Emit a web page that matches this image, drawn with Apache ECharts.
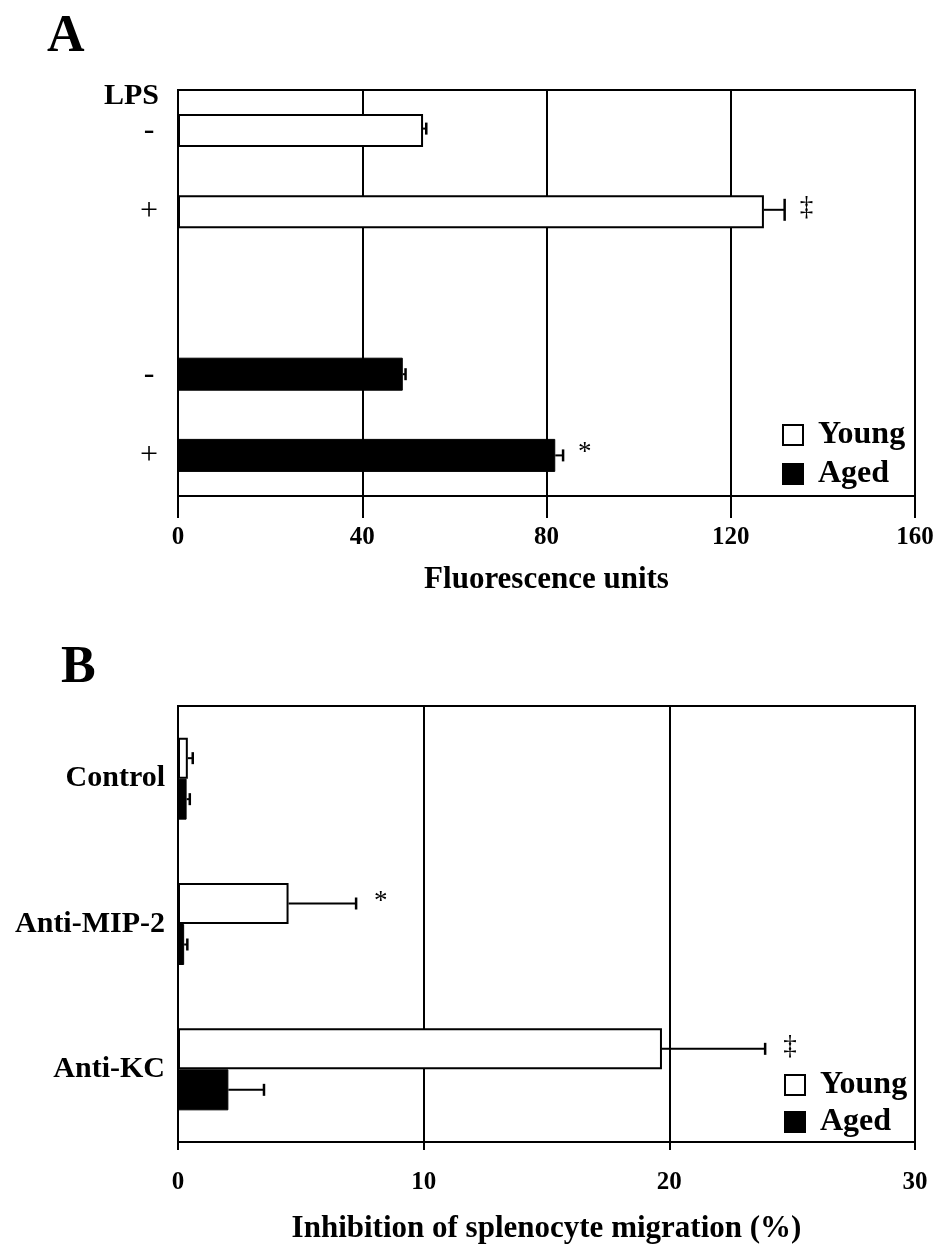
<!DOCTYPE html>
<html><head><meta charset="utf-8">
<script src="https://cdn.jsdelivr.net/npm/echarts@6/dist/echarts.min.js"></script>
<style>html,body{margin:0;padding:0;background:#fff}#c{width:940px;height:1254px}</style>
</head><body><div id="c"></div>
<script>
// ---- Panel A data ----
const catsA = ['Young LPS-', 'Young LPS+', 'gap', 'Aged LPS-', 'Aged LPS+'];
const tickLabelsA = ['-', '+', '', '-', '+'];
const youngA = [53.2, 127.2, null, null, null];
const agedA = [null, null, null, 48.8, 81.9];
const youngErrA = [0.7, 4.5, null, null, null];
const agedErrA = [null, null, null, 0.6, 1.7];
const youngMarkA = ['', '‡', '', '', ''];
const agedMarkA = ['', '', '', '', '*'];
const xTicksA = [0, 40, 80, 120, 160];
// ---- Panel B data ----
const catsB = ['Control', 'Anti-MIP-2', 'Anti-KC'];
const youngB = [0.4, 4.5, 19.7];
const agedB = [0.35, 0.25, 2.05];
const youngErrB = [0.2, 2.75, 4.2];
const agedErrB = [0.13, 0.13, 1.45];
const youngMarkB = ['', '*', '‡'];
const agedMarkB = ['', '', ''];
const xTicksB = [0, 10, 20, 30];

const SERIF = '"Liberation Serif", "DejaVu Serif", serif';

function errData(vals, errs) {
  const out = [];
  vals.forEach((v, i) => { if (v != null && errs[i] != null) out.push([v, i, errs[i], i]); });
  return out;
}
function errSeries(name, xi, yi, vals, errs, marks, yOff, capHalf, markGap) {
  return {
    type: 'custom', name: name + ' error', xAxisIndex: xi, yAxisIndex: yi, z: 10,
    encode: { x: 0, y: 1 },
    data: errData(vals, errs),
    renderItem: function (params, api) {
      const v = api.value(0), c = api.value(1), e = api.value(2), idx = api.value(3);
      const p0 = api.coord([v, c]);
      const p1 = api.coord([v + e, c]);
      const y = p0[1] + yOff;
      const len = p1[0] - p0[0];
      const h = len < 8 ? Math.min(capHalf, 6) : capHalf;
      const children = [
        { type: 'line', shape: { x1: p0[0], y1: y, x2: p1[0], y2: y }, style: { stroke: '#000', lineWidth: 2 } },
        { type: 'line', shape: { x1: p1[0], y1: y - h, x2: p1[0], y2: y + h }, style: { stroke: '#000', lineWidth: 2.5 } }
      ];
      const m = marks[idx];
      if (m) {
        children.push({ type: 'text', x: p1[0] + markGap, y: y - 2,
          style: { text: m, font: '27px ' + SERIF, fill: '#000', align: 'left', verticalAlign: 'middle' } });
      }
      return { type: 'group', children: children };
    }
  };
}

const chart = echarts.init(document.getElementById('c'), null, { renderer: 'canvas' });
const axisLine = { show: true, lineStyle: { color: '#000', width: 2 } };
const tickFont = { fontFamily: SERIF, fontWeight: 'bold', fontSize: 25, color: '#000' };
const nameFont = { fontFamily: SERIF, fontWeight: 'bold', fontSize: 31, color: '#000' };
const legendText = { fontFamily: SERIF, fontWeight: 'bold', fontSize: 32, color: '#000', padding: [0, 0, 0, 10] };
const youngStyle = { color: '#fff', borderColor: '#000', borderWidth: 2 };
const agedStyle = { color: '#000', borderColor: '#000', borderWidth: 1 };

chart.setOption({
  animation: false,
  backgroundColor: '#fff',
  grid: [
    { left: 178, right: 25, top: 90, height: 406, show: true, borderColor: '#000', borderWidth: 2, containLabel: false },
    { left: 178, right: 25, top: 706, height: 436, show: true, borderColor: '#000', borderWidth: 2, containLabel: false }
  ],
  xAxis: [
    { type: 'value', gridIndex: 0, min: xTicksA[0], max: xTicksA[xTicksA.length - 1], interval: xTicksA[1] - xTicksA[0],
      axisLine: axisLine, axisTick: { show: true, length: 22, lineStyle: { color: '#000', width: 2 } },
      splitLine: { show: true, lineStyle: { color: '#000', width: 2 } },
      axisLabel: Object.assign({ margin: 29 }, tickFont),
      name: 'Fluorescence units', nameLocation: 'middle', nameGap: 68, nameTextStyle: nameFont },
    { type: 'value', gridIndex: 1, min: xTicksB[0], max: xTicksB[xTicksB.length - 1], interval: xTicksB[1] - xTicksB[0],
      axisLine: axisLine, axisTick: { show: true, length: 8, lineStyle: { color: '#000', width: 2 } },
      splitLine: { show: true, lineStyle: { color: '#000', width: 2 } },
      axisLabel: Object.assign({ margin: 28 }, tickFont),
      name: 'Inhibition of splenocyte migration (%)', nameLocation: 'middle', nameGap: 71, nameTextStyle: nameFont }
  ],
  yAxis: [
    { type: 'category', gridIndex: 0, data: catsA, inverse: true,
      axisLine: axisLine, axisTick: { show: false }, splitLine: { show: false },
      axisLabel: { margin: 29, align: 'center', fontFamily: SERIF, fontSize: 32, color: '#000',
        formatter: function (v, i) { return tickLabelsA[i]; } } },
    { type: 'category', gridIndex: 1, data: catsB, inverse: true,
      axisLine: axisLine, axisTick: { show: false }, splitLine: { show: false },
      axisLabel: { margin: 13, fontFamily: SERIF, fontWeight: 'bold', fontSize: 30, color: '#000' } }
  ],
  legend: [
    { data: ['Young', 'Aged'], orient: 'vertical', left: 782, top: 419, padding: 0, itemWidth: 20, itemHeight: 20, itemGap: 7,
      icon: 'rect', textStyle: legendText, selectedMode: false },
    { data: ['Young', 'Aged'], orient: 'vertical', left: 784, top: 1069, padding: 0, itemWidth: 20, itemHeight: 20, itemGap: 5,
      icon: 'rect', textStyle: legendText, selectedMode: false }
  ],
  graphic: [
    { type: 'text', left: 47, top: 12, style: { text: 'A', font: 'bold 52px ' + SERIF, fill: '#000' } },
    { type: 'text', left: 61, top: 643, style: { text: 'B', font: 'bold 52px ' + SERIF, fill: '#000' } },
    { type: 'text', left: 104, top: 81, style: { text: 'LPS', font: 'bold 30px ' + SERIF, fill: '#000' } }
  ],
  series: [
    { type: 'bar', name: 'Young', xAxisIndex: 0, yAxisIndex: 0, data: youngA, barWidth: 33, barGap: '-100%', itemStyle: youngStyle },
    { type: 'bar', name: 'Aged', xAxisIndex: 0, yAxisIndex: 0, data: agedA, barWidth: 33, barGap: '-100%', itemStyle: agedStyle },
    { type: 'bar', name: 'Young', xAxisIndex: 1, yAxisIndex: 1, data: youngB, barWidth: 41, barGap: '0%', itemStyle: youngStyle },
    { type: 'bar', name: 'Aged', xAxisIndex: 1, yAxisIndex: 1, data: agedB, barWidth: 41, barGap: '0%', itemStyle: agedStyle },
    errSeries('Young', 0, 0, youngA, youngErrA, youngMarkA, -2, 11, 15),
    errSeries('Aged', 0, 0, agedA, agedErrA, agedMarkA, 0, 10, 15),
    errSeries('Young', 1, 1, youngB, youngErrB, youngMarkB, -20.5, 6, 18),
    errSeries('Aged', 1, 1, agedB, agedErrB, agedMarkB, 20.5, 6, 18)
  ]
});
</script>
</body></html>
